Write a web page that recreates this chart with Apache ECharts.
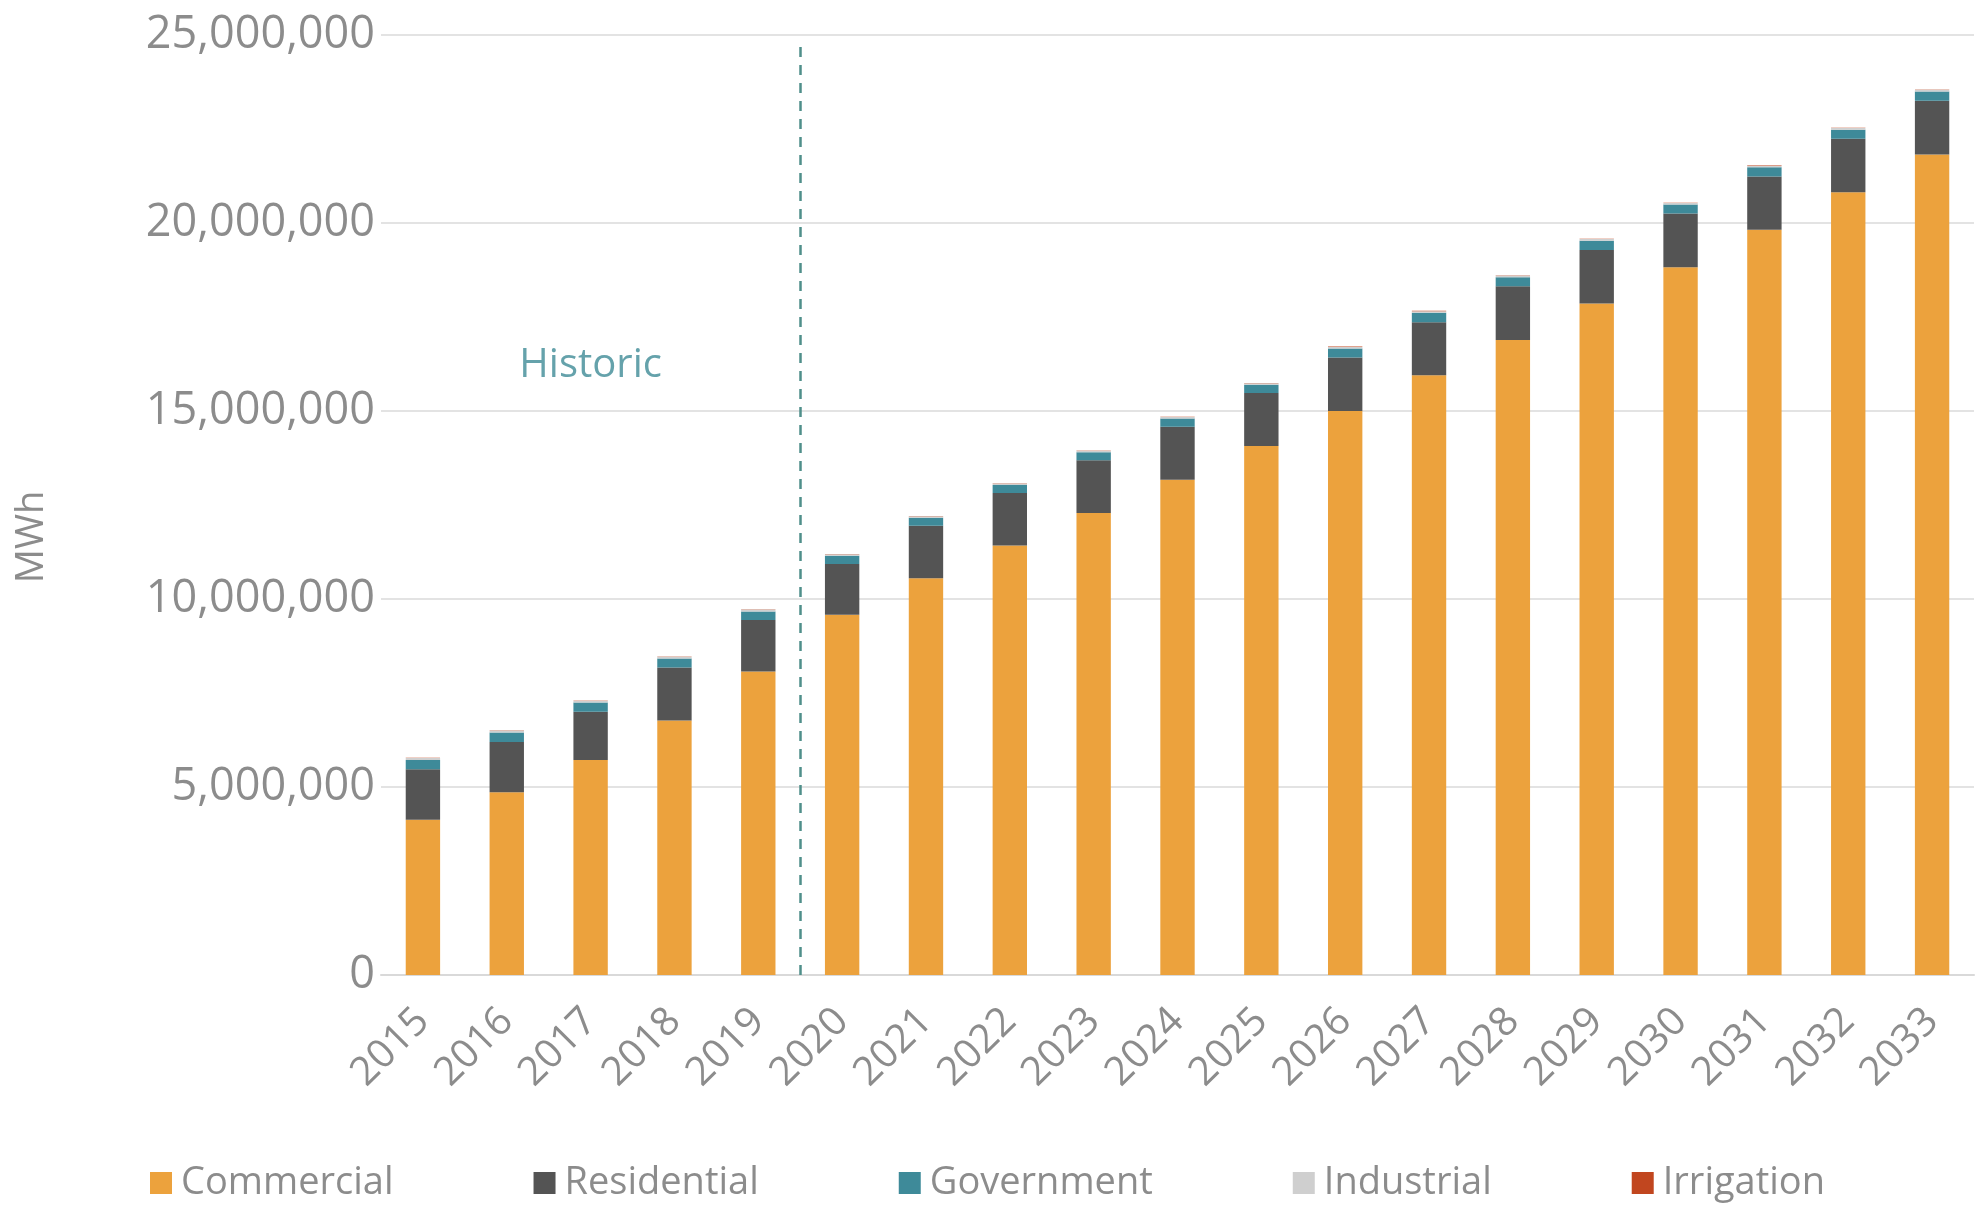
<!DOCTYPE html>
<html>
<head>
<meta charset="utf-8">
<script src="https://cdn.jsdelivr.net/npm/echarts@6/dist/echarts.min.js"></script>
<style>
html,body{margin:0;padding:0;background:#fff;}
#chart{width:1980px;height:1225px;}
</style>
</head>
<body>
<div id="chart"></div>
<script>
const years = ['2015','2016','2017','2018','2019','2020','2021','2022','2023','2024','2025','2026','2027','2028','2029','2030','2031','2032','2033'];
const commercial = [4130000,4860000,5720000,6770000,8070000,9580000,10550000,11420000,12290000,13170000,14070000,15000000,15950000,16890000,17860000,18820000,19820000,20820000,21820000];
const residential = [1340000,1340000,1280000,1410000,1370000,1350000,1400000,1400000,1400000,1410000,1410000,1420000,1410000,1430000,1420000,1430000,1420000,1420000,1430000];
const government = [250000,250000,250000,240000,230000,220000,210000,210000,210000,220000,220000,240000,250000,240000,250000,240000,240000,240000,250000];
const industrial = [50000,50000,45000,45000,50000,40000,40000,40000,40000,40000,40000,45000,45000,45000,45000,40000,45000,45000,45000];
const irrigation = [8000,8000,8000,8000,8000,8000,8000,8000,8000,8000,8000,8000,8000,8000,8000,8000,8000,8000,8000];
const yTicks = {min:0, max:25000000, interval:5000000};
const dividerPos = 4.5;          // between 2019 and 2020 (category index space)
const historicLabel = {year:'2017', value:16200000, text:'Historic'};

const grey = '#8c8c8c';
const font = 'Open Sans';
const chart = echarts.init(document.getElementById('chart'));

function barSeries(name, data, color){
  return {name:name, type:'bar', stack:'total', data:data, barWidth:'41%',
    itemStyle:{color:color}, emphasis:{disabled:true}, xAxisIndex:0, yAxisIndex:0};
}

chart.setOption({
  animation:false,
  backgroundColor:'#ffffff',
  textStyle:{fontFamily:font},
  grid:{left:381, right:6, top:35, bottom:250, containLabel:false},
  legend:{
    bottom:18, left:145,
    itemWidth:22, itemHeight:22, itemGap:140,
    icon:'rect',
    textStyle:{fontSize:38, color:grey, fontFamily:font, padding:[0,0,0,4]},
    data:['Commercial','Residential','Government','Industrial','Irrigation']
  },
  xAxis:[{
    type:'category', data:years,
    axisLine:{lineStyle:{color:'#d9d9d9', width:2}},
    axisTick:{show:false},
    axisLabel:{rotate:45, fontSize:40, color:grey, fontFamily:font, margin:40, interval:0}
  },{
    type:'value', min:-0.5, max:years.length-0.5, show:false
  }],
  yAxis:{
    type:'value', min:yTicks.min, max:yTicks.max, interval:yTicks.interval,
    name:'MWh', nameLocation:'middle', nameGap:330, nameRotate:90,
    nameTextStyle:{fontSize:38, color:grey, fontFamily:font, padding:[0,64,0,0]},
    axisLine:{show:false}, axisTick:{show:false},
    axisLabel:{fontSize:45, color:grey, fontFamily:font, margin:6,
      formatter:function(v){return v.toLocaleString('en-US');}},
    splitLine:{lineStyle:{color:'#e3e3e3', width:2}}
  },
  series:[
    barSeries('Commercial', commercial, '#eca23d'),
    barSeries('Residential', residential, '#545454'),
    barSeries('Government', government, '#3e8a99'),
    barSeries('Industrial', industrial, '#cfcfcf'),
    barSeries('Irrigation', irrigation, '#c1461f'),
    {
      type:'line', xAxisIndex:1, yAxisIndex:0, data:[], silent:true,
      markLine:{
        silent:true, symbol:['none','none'],
        lineStyle:{color:'#4f8f8a', type:[10,8], width:2.5},
        label:{show:false},
        data:[[{coord:[dividerPos, yTicks.min]},{coord:[dividerPos, 24700000]}]]
      }
    },
    {
      type:'scatter', xAxisIndex:0, yAxisIndex:0, symbolSize:0, silent:true,
      data:[[historicLabel.year, historicLabel.value]],
      label:{show:true, position:'inside', formatter:historicLabel.text,
        fontSize:40, color:'#3f8b96', fontFamily:font}
    }
  ]
});
</script>
</body>
</html>
